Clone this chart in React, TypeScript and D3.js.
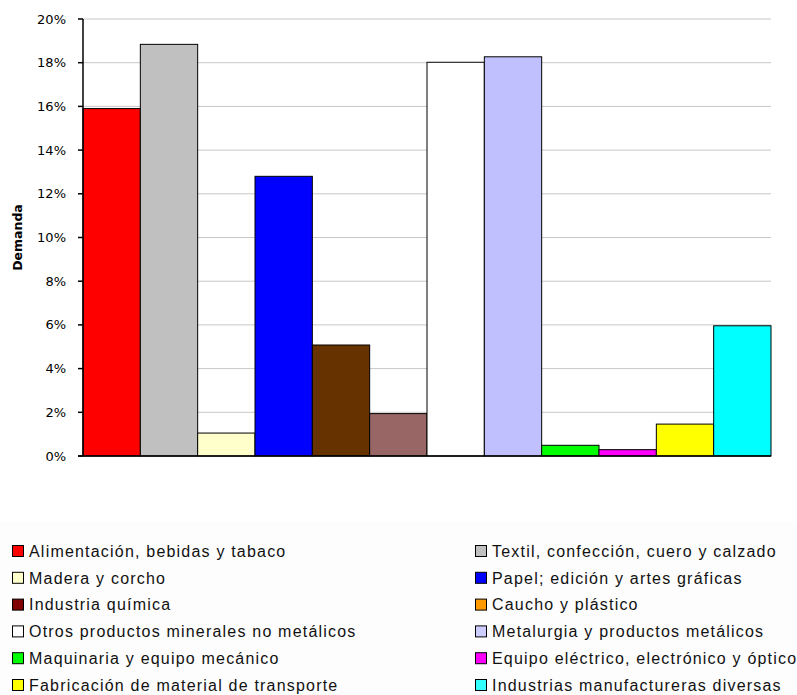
import React from "react";
import * as d3 from "d3";

const categories = [
  "Alimentación, bebidas y tabaco",
  "Textil, confección, cuero y calzado",
  "Madera y corcho",
  "Papel; edición y artes gráficas",
  "Industria química",
  "Caucho y plástico",
  "Otros productos minerales no metálicos",
  "Metalurgia y productos metálicos",
  "Maquinaria y equipo mecánico",
  "Equipo eléctrico, electrónico y óptico",
  "Fabricación de material de transporte",
  "Industrias manufactureras diversas",
];
const values = [15.9, 18.84, 1.05, 12.8, 5.08, 1.94, 18.02, 18.27, 0.49, 0.29, 1.46, 5.96];
const barColors = ["#ff0000", "#c0c0c0", "#ffffcc", "#0000ff", "#663300", "#996666", "#ffffff", "#c0c0ff", "#00ff00", "#ff00ff", "#ffff00", "#00ffff"];
const legendColors = ["#ff0000", "#c0c0c0", "#ffffcc", "#0000ff", "#800000", "#ff9900", "#ffffff", "#ccccff", "#00ff00", "#ff00ff", "#ffff00", "#33ffff"];
const yTicks = [0, 2, 4, 6, 8, 10, 12, 14, 16, 18, 20];

export default function App() {
  const W = 797, H = 695;
  const left = 83, right = 771, top = 19, bottom = 456;
  const x = d3.scaleBand<number>().domain(d3.range(categories.length)).range([left, right]).padding(0);
  const y = d3.scaleLinear().domain([0, 20]).range([bottom, top]);
  const rows = Math.ceil(categories.length / 2);
  const legY = d3.scaleLinear().domain([0, rows - 1]).range([551, 685]);
  return (
    <svg width={W} height={H} style={{ position: "absolute", left: 0, top: 0 }}>
      <rect x={0} y={0} width={W} height={H} fill="#ffffff" />
      <rect x={0} y={522} width={W} height={H - 522} fill="#fdfdfd" />
      {yTicks.slice(1).map((t) => (
        <line key={"g" + t} x1={left} x2={right} y1={y(t)} y2={y(t)} stroke="#c8c8c8" strokeWidth={1} />
      ))}
      {values.map((v, i) => (
        <rect key={i} x={x(i)} y={y(v)} width={x.bandwidth()} height={bottom - y(v)} fill={barColors[i]} stroke="#000" strokeWidth={1} />
      ))}
      <line x1={left} x2={left} y1={top} y2={bottom} stroke="#000" strokeWidth={1.5} />
      <line x1={left - 5} x2={right} y1={bottom} y2={bottom} stroke="#000" strokeWidth={1.5} />
      {yTicks.map((t) => (
        <g key={"t" + t}>
          <line x1={left - 5} x2={left} y1={y(t)} y2={y(t)} stroke="#000" strokeWidth={1.5} />
          <text x={66} y={y(t)} dy="0.35em" textAnchor="end" fontFamily="DejaVu Sans" fontSize={13} fill="#000">
            {t + "%"}
          </text>
        </g>
      ))}
      <text transform={`translate(22,${(top + bottom) / 2}) rotate(-90)`} textAnchor="middle" fontFamily="DejaVu Sans" fontWeight="bold" fontSize={12.5} fill="#000">
        Demanda
      </text>
      {categories.map((c, i) => {
        const col = i % 2;
        const row = Math.floor(i / 2);
        const sx = col === 0 ? 12 : 475;
        const cy = legY(row);
        return (
          <g key={"l" + i}>
            <rect x={sx + 0.5} y={cy - 5.5} width={11} height={11} fill={legendColors[i]} stroke="#000" strokeWidth={1} />
            <text x={sx + 17} y={cy} dy="0.36em" fontFamily="Liberation Sans" fontSize={16} letterSpacing={1.2} fill="#111">
              {c}
            </text>
          </g>
        );
      })}
    </svg>
  );
}
